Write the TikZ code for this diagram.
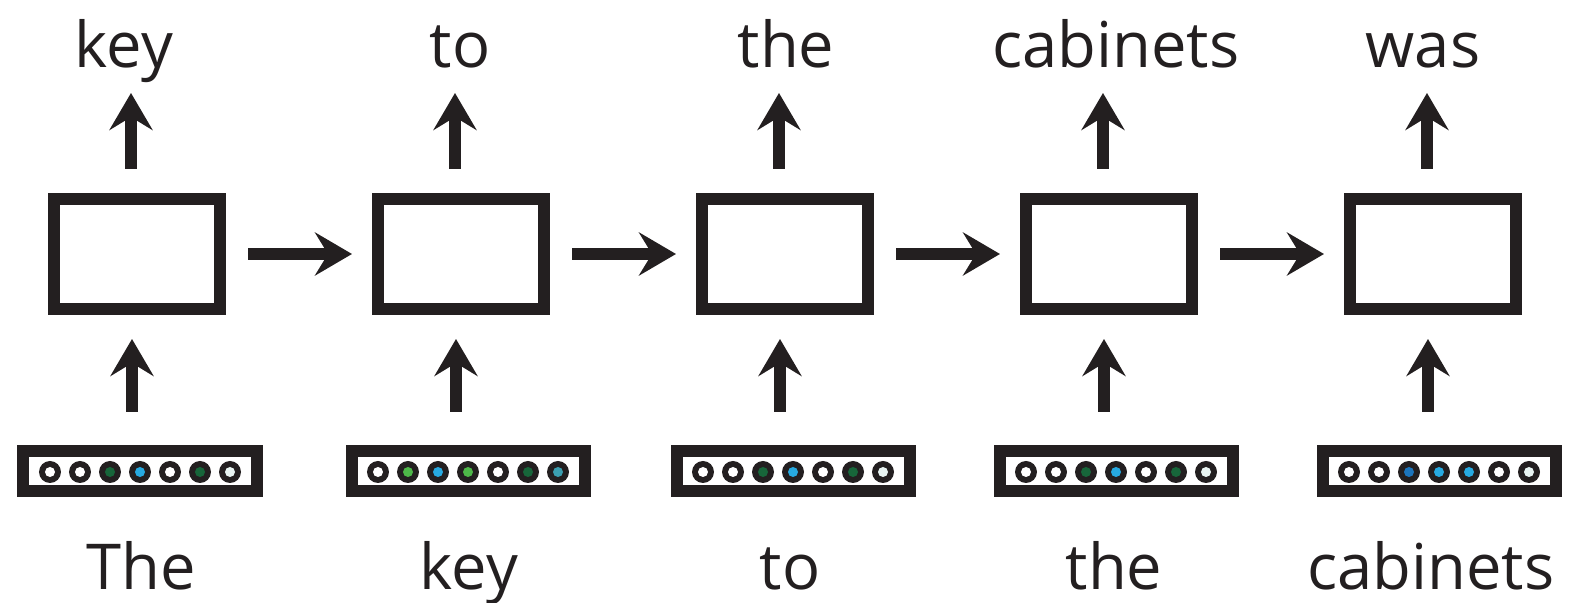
\documentclass[tikz,border=0pt]{standalone}
\usepackage{fontspec}
\setmainfont{Open Sans}
\usetikzlibrary{arrows.meta}

\definecolor{ink}{HTML}{231F20}
\definecolor{dkgreen}{HTML}{17663A}
\definecolor{ltgreen}{HTML}{4DB848}
\definecolor{skyblue}{HTML}{27AAE1}
\definecolor{teal}{HTML}{3B9FB0}
\definecolor{dkblue}{HTML}{1C75BC}
\definecolor{pale}{HTML}{E8F4F2}

\tikzset{
	cell/.style={draw=ink, line width=0.12cm, minimum width=1.66cm, minimum height=1.10cm, inner sep=0pt},
	embed/.style={draw=ink, line width=0.12cm, minimum width=2.33cm, minimum height=0.40cm, inner sep=0pt},
	word/.style={text=ink, font=\fontsize{18}{20}\selectfont, anchor=base, inner sep=0pt},
	flow/.style={draw=ink, line width=0.12cm, -{Stealth[length=0.37cm, width=0.43cm, inset=0.13cm]}},
}

\begin{document}
\begin{tikzpicture}

				\useasboundingbox (0, 0) rectangle (15.69, 6.03);

				\node [cell] (C1) at (1.37, 3.49) {};
				\node [cell] (C2) at (4.61, 3.49) {};
				\node [cell] (C3) at (7.85, 3.49) {};
				\node [cell] (C4) at (11.09, 3.49) {};
				\node [cell] (C5) at (14.33, 3.49) {};

				\node [embed] (E1) at (1.40, 1.32) {};
				\node [embed] (E2) at (4.68, 1.32) {};
				\node [embed] (E3) at (7.93, 1.32) {};
				\node [embed] (E4) at (11.16, 1.32) {};
				\node [embed] (E5) at (14.39, 1.32) {};

				\node [word] (IN1) at (1.41, 0.13) {The};
				\node [word] (IN2) at (4.69, 0.13) {key};
				\node [word] (IN3) at (7.90, 0.13) {to};
				\node [word] (IN4) at (11.14, 0.13) {the};
				\node [word] (IN5) at (14.31, 0.13) {cabinets};

				\node [word] (OUT1) at (1.24, 5.35) {key};
				\node [word] (OUT2) at (4.60, 5.35) {to};
				\node [word] (OUT3) at (7.86, 5.35) {the};
				\node [word] (OUT4) at (11.16, 5.35) {cabinets};
				\node [word] (OUT5) at (14.23, 5.35) {was};

				% one-hot style dots in each embedding
				\foreach \c [count=\i] in {white, white, dkgreen, skyblue, white, dkgreen, pale} {
					\fill [ink] ([xshift=(\i-4)*0.30cm, yshift=-0.01cm]E1.center) circle (0.11cm);
					\fill [\c] ([xshift=(\i-4)*0.30cm, yshift=-0.01cm]E1.center) circle (0.05cm);
				}
				\foreach \c [count=\i] in {white, ltgreen, skyblue, ltgreen, white, dkgreen, teal} {
					\fill [ink] ([xshift=(\i-4)*0.30cm, yshift=-0.01cm]E2.center) circle (0.11cm);
					\fill [\c] ([xshift=(\i-4)*0.30cm, yshift=-0.01cm]E2.center) circle (0.05cm);
				}
				\foreach \c [count=\i] in {white, white, dkgreen, skyblue, white, dkgreen, pale} {
					\fill [ink] ([xshift=(\i-4)*0.30cm, yshift=-0.01cm]E3.center) circle (0.11cm);
					\fill [\c] ([xshift=(\i-4)*0.30cm, yshift=-0.01cm]E3.center) circle (0.05cm);
				}
				\foreach \c [count=\i] in {white, white, dkgreen, skyblue, white, dkgreen, pale} {
					\fill [ink] ([xshift=(\i-4)*0.30cm, yshift=-0.01cm]E4.center) circle (0.11cm);
					\fill [\c] ([xshift=(\i-4)*0.30cm, yshift=-0.01cm]E4.center) circle (0.05cm);
				}
				\foreach \c [count=\i] in {white, white, dkblue, skyblue, skyblue, white, pale} {
					\fill [ink] ([xshift=(\i-4)*0.30cm, yshift=-0.01cm]E5.center) circle (0.11cm);
					\fill [\c] ([xshift=(\i-4)*0.30cm, yshift=-0.01cm]E5.center) circle (0.05cm);
				}

				\draw [flow, shorten <=0.33cm, shorten >=0.24cm] ([xshift=-0.05cm]C1.south |- E1.north) -- ([xshift=-0.05cm]C1.south);
				\draw [flow, shorten <=0.33cm, shorten >=0.24cm] ([xshift=-0.05cm]C2.south |- E2.north) -- ([xshift=-0.05cm]C2.south);
				\draw [flow, shorten <=0.33cm, shorten >=0.24cm] ([xshift=-0.05cm]C3.south |- E3.north) -- ([xshift=-0.05cm]C3.south);
				\draw [flow, shorten <=0.33cm, shorten >=0.24cm] ([xshift=-0.05cm]C4.south |- E4.north) -- ([xshift=-0.05cm]C4.south);
				\draw [flow, shorten <=0.33cm, shorten >=0.24cm] ([xshift=-0.05cm]C5.south |- E5.north) -- ([xshift=-0.05cm]C5.south);

				\draw [flow, shorten <=0.24cm, shorten >=0.25cm] ([xshift=-0.06cm]C1.north) -- ([xshift=-0.06cm]C1.north |- OUT1.base);
				\draw [flow, shorten <=0.24cm, shorten >=0.25cm] ([xshift=-0.06cm]C2.north) -- ([xshift=-0.06cm]C2.north |- OUT2.base);
				\draw [flow, shorten <=0.24cm, shorten >=0.25cm] ([xshift=-0.06cm]C3.north) -- ([xshift=-0.06cm]C3.north |- OUT3.base);
				\draw [flow, shorten <=0.24cm, shorten >=0.25cm] ([xshift=-0.06cm]C4.north) -- ([xshift=-0.06cm]C4.north |- OUT4.base);
				\draw [flow, shorten <=0.24cm, shorten >=0.25cm] ([xshift=-0.06cm]C5.north) -- ([xshift=-0.06cm]C5.north |- OUT5.base);

				\draw [flow, shorten <=0.22cm, shorten >=0.20cm] (C1) -- (C2);
				\draw [flow, shorten <=0.22cm, shorten >=0.20cm] (C2) -- (C3);
				\draw [flow, shorten <=0.22cm, shorten >=0.20cm] (C3) -- (C4);
				\draw [flow, shorten <=0.22cm, shorten >=0.20cm] (C4) -- (C5);
\end{tikzpicture}
\end{document}
